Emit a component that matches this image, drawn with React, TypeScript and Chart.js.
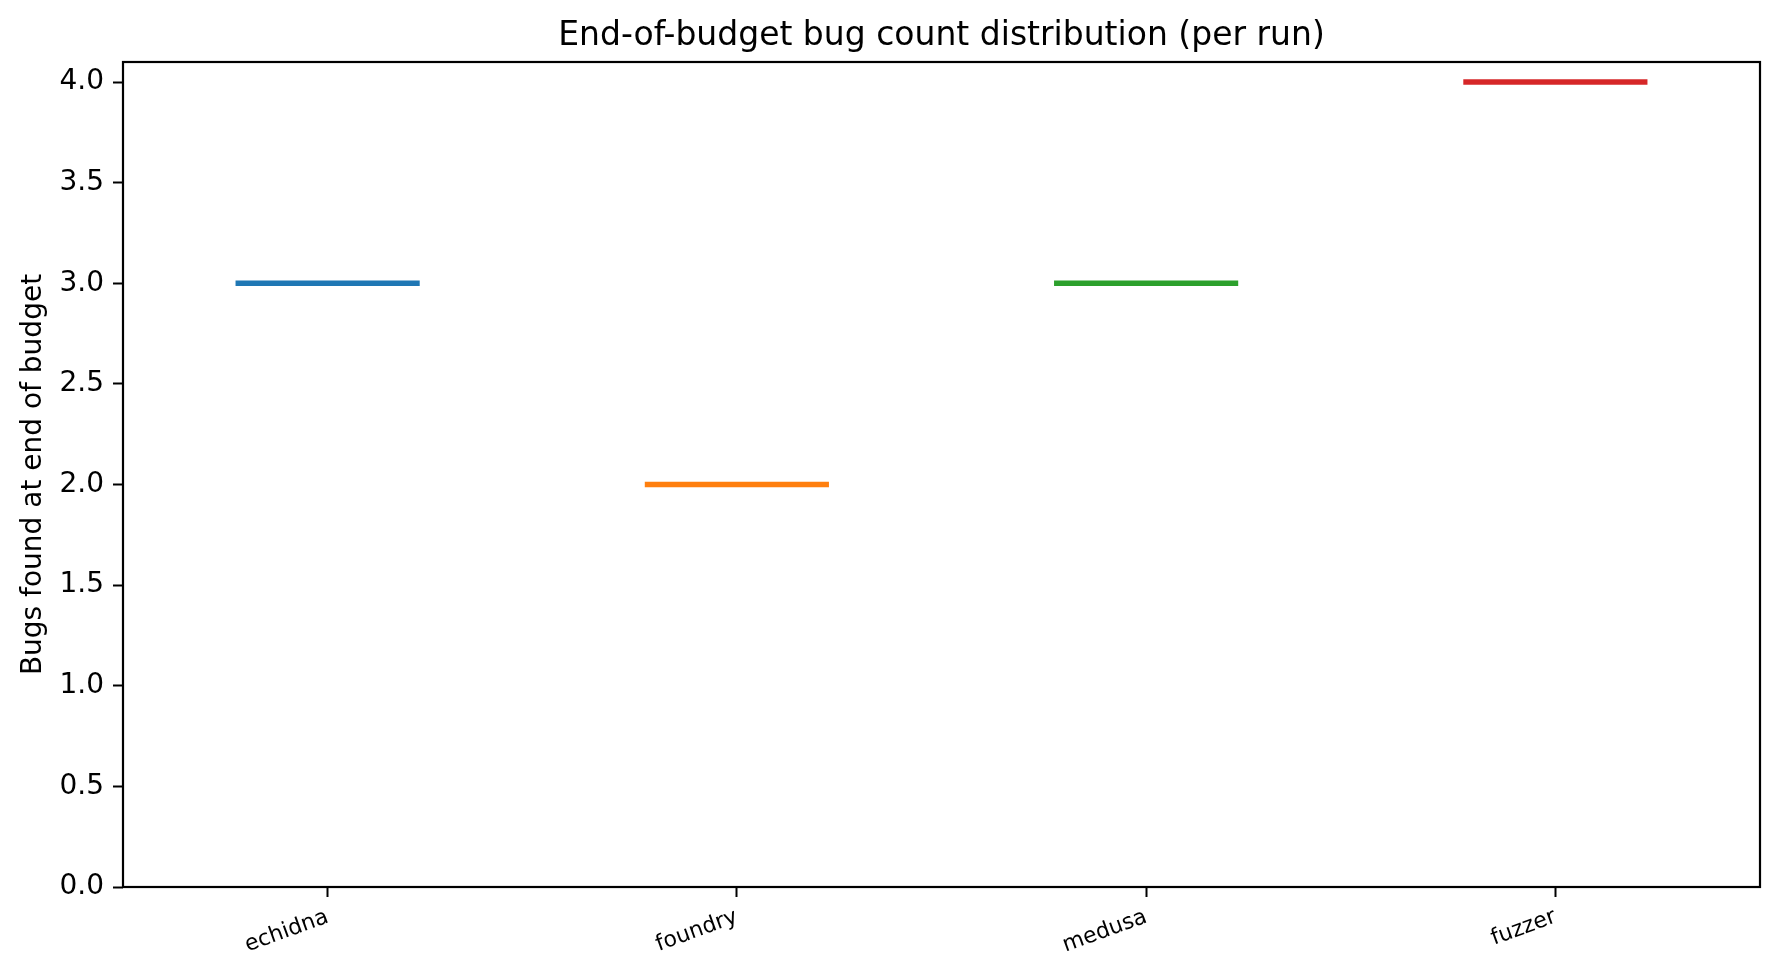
import React, { useEffect, useRef } from "react";
import { Chart, registerables } from "chart.js";

Chart.register(...registerables);

const categories = ["echidna", "foundry", "medusa", "fuzzer"];
const medians = [3, 2, 3, 4];
const seriesColors = ["#1f77b4", "#ff7f0e", "#2ca02c", "#d62728"];
const yTicks = [0, 0.5, 1.0, 1.5, 2.0, 2.5, 3.0, 3.5, 4.0];
const boxWidth = 0.45;
const titleText = "End-of-budget bug count distribution (per run)";
const yLabelText = "Bugs found at end of budget";

const FONT = "'DejaVu Sans', sans-serif";

const decorPlugin = {
  id: "decor",
  afterDraw(chart: any) {
    const { ctx, chartArea } = chart;
    const { left, right, top, bottom } = chartArea;
    ctx.save();
    ctx.strokeStyle = "#000";
    ctx.lineWidth = 2.2;
    ctx.strokeRect(left, top, right - left, bottom - top);
    ctx.fillStyle = "#000";
    ctx.font = `33px ${FONT}`;
    ctx.textAlign = "center";
    ctx.textBaseline = "middle";
    ctx.fillText(titleText, (left + right) / 2, 36);
    ctx.translate(34, (top + bottom) / 2);
    ctx.rotate(-Math.PI / 2);
    ctx.font = `28px ${FONT}`;
    ctx.fillText(yLabelText, 0, 0);
    ctx.restore();
  },
};

export default function App() {
  const ref = useRef<HTMLCanvasElement | null>(null);

  useEffect(() => {
    if (!ref.current) return;
    const datasets = categories.map((name, i) => ({
      label: name,
      data: [
        { x: i + 1 - boxWidth / 2, y: medians[i] },
        { x: i + 1 + boxWidth / 2, y: medians[i] },
      ],
      showLine: true,
      borderColor: seriesColors[i],
      backgroundColor: seriesColors[i],
      borderWidth: 5.5,
      borderCapStyle: "butt" as const,
      pointRadius: 0,
    }));
    const chart = new Chart(ref.current, {
      type: "scatter",
      data: { datasets },
      plugins: [decorPlugin],
      options: {
        animation: false,
        responsive: false,
        devicePixelRatio: 1,
        layout: { padding: { top: 62, right: 20, left: 0, bottom: 0 } },
        plugins: {
          legend: { display: false },
          tooltip: { enabled: false },
          title: { display: false },
        },
        scales: {
          x: {
            type: "linear",
            min: 0.5,
            max: 4.5,
            afterBuildTicks: (scale: any) => {
              scale.ticks = categories.map((_, i) => ({ value: i + 1 }));
            },
            afterFit: (scale: any) => {
              scale.height = 90;
            },
            grid: {
              display: true,
              drawOnChartArea: false,
              drawTicks: true,
              tickLength: 10,
              tickWidth: 2,
              tickColor: "#000",
            },
            border: { display: false },
            ticks: {
              minRotation: 20,
              maxRotation: 20,
              padding: 7,
              color: "#000",
              font: { family: FONT, size: 22 },
              callback: (v: any) => categories[Math.round(Number(v)) - 1] ?? "",
            },
          },
          y: {
            type: "linear",
            min: 0,
            max: 4.1,
            afterBuildTicks: (scale: any) => {
              scale.ticks = yTicks.map((v) => ({ value: v }));
            },
            afterFit: (scale: any) => {
              scale.width = 123;
            },
            grid: {
              display: true,
              drawOnChartArea: false,
              drawTicks: true,
              tickLength: 10,
              tickWidth: 2,
              tickColor: "#000",
            },
            border: { display: false },
            ticks: {
              padding: 9,
              color: "#000",
              font: { family: FONT, size: 28 },
              callback: (v: any) => Number(v).toFixed(1),
            },
          },
        },
      },
    });
    return () => chart.destroy();
  }, []);

  return (
    <div style={{ position: "absolute", left: 0, top: 0, width: 1780, height: 977, background: "#fff" }}>
      <canvas ref={ref} width={1780} height={977} />
    </div>
  );
}
